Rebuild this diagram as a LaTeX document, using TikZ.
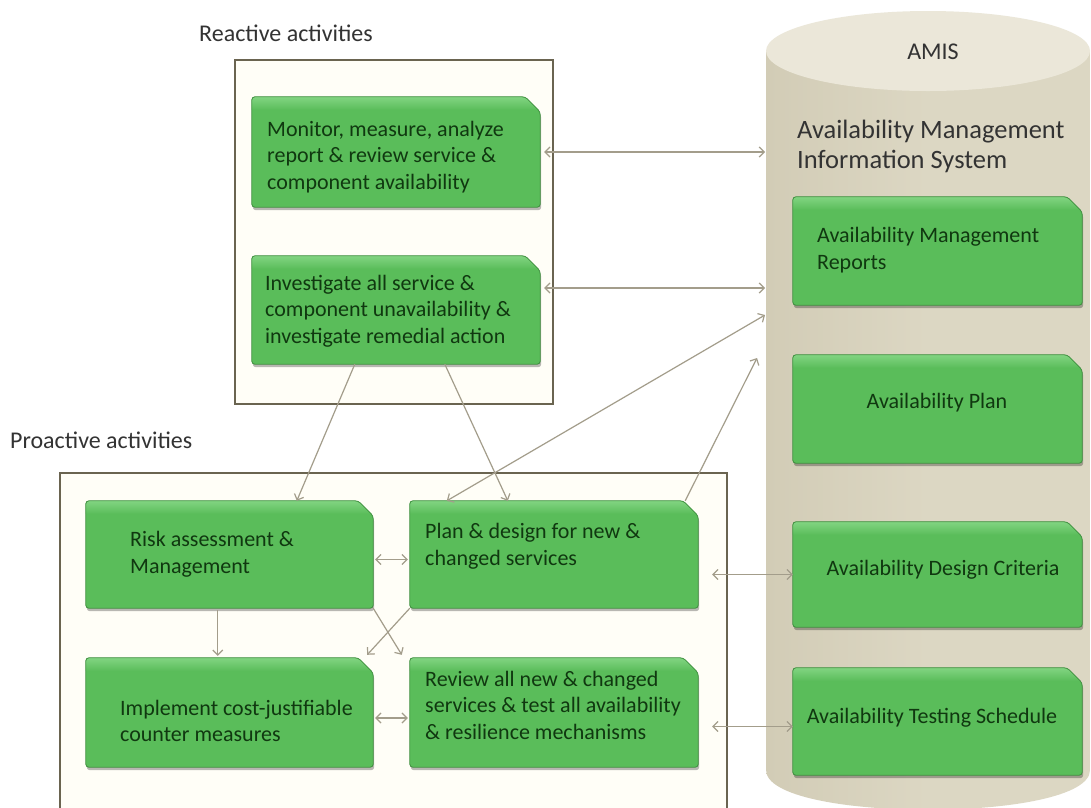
\documentclass[tikz,border=0pt]{standalone}
\usepackage{fontspec}
\setmainfont{Carlito}
\usetikzlibrary{arrows.meta,calc}
\definecolor{gfill}{HTML}{5ABD5A}
\definecolor{gtop}{HTML}{88D888}
\definecolor{gline}{HTML}{3F8F3F}
\definecolor{gtxt}{HTML}{103810}
\definecolor{frame}{HTML}{6A6450}
\definecolor{cream}{HTML}{FFFEF7}
\definecolor{arrc}{HTML}{A39D8B}
\definecolor{cylbody}{HTML}{DCD7C3}
\definecolor{cylleft}{HTML}{D2CCB6}
\definecolor{cyltop}{HTML}{EBE7D9}
\definecolor{lbl}{HTML}{333333}
\begin{document}
\begin{tikzpicture}[x=1pt,y=-1pt,
  gnode/.style={rectangle, inner sep=0pt},
  gshape/.style={fill=gfill, rounded corners=3pt},
  gborder/.style={draw=gline, line width=0.8pt, rounded corners=3pt},
  gshadow/.style={fill=black, opacity=0.28, rounded corners=3pt},
  gtext/.style={font=\fontsize{22}{26.5}\selectfont, text=gtxt, align=left, inner sep=0pt, anchor=west},
  ctext/.style={font=\fontsize{22}{26.5}\selectfont, text=gtxt, align=center, inner sep=0pt},
  ltext/.style={font=\fontsize{24}{30}\selectfont, text=lbl, inner sep=0pt},
  frm/.style={draw=frame, line width=2pt, fill=cream},
  arr/.style={draw=arrc, line width=1.2pt, -{Straight Barb[length=5pt,width=10pt]}},
  darr/.style={draw=arrc, line width=1.2pt, {Straight Barb[length=5pt,width=10pt]}-{Straight Barb[length=5pt,width=10pt]}}
]
\useasboundingbox (0,0) rectangle (1091,807);
\clip (0,0) rectangle (1091,807);
\fill[white] (0,0) rectangle (1091,807);

% AMIS cylinder
\shade[left color=cylleft, right color=cylbody, middle color=cylbody] (766,51) -- (766,770) .. controls (766,823) and (1090,823) .. (1090,770) -- (1090,51) -- cycle;
\fill[cyltop] (928,51) ellipse [x radius=162pt, y radius=40pt];
\node[ltext] (amis) at (933,52) {AMIS};
\node[ltext, anchor=west, align=left, font=\fontsize{26.5}{30}\selectfont] (amisT) at (797,146) {Availability Management\\Information System};

% frames
\path[frm] (235,60) rectangle (553,404);
\path[frm] (60,473) rectangle (727,830);
\node[ltext, anchor=west] (reactL) at (199,33) {Reactive activities};
\node[ltext, anchor=west] (proactL) at (10,440) {Proactive activities};

% coordinates on the AMIS cylinder
\coordinate (c1) at (765,152);
\coordinate (c2) at (765,288);
\coordinate (c3) at (765,315);
\coordinate (c4) at (757,358);

% boxes (named frames)
\node[gnode, minimum width=288pt, minimum height=110pt] (mon) at (396,152) {};
\node[gnode, minimum width=288pt, minimum height=108pt] (inv) at (396,310) {};
\node[gnode, minimum width=287pt, minimum height=107pt] (risk) at (229.5,554.5) {};
\node[gnode, minimum width=288pt, minimum height=107pt] (plan) at (554,554.5) {};
\node[gnode, minimum width=287pt, minimum height=109pt] (impl) at (229.5,712.5) {};
\node[gnode, minimum width=288pt, minimum height=109pt] (rev) at (554,712.5) {};
\node[gnode, minimum width=289pt, minimum height=108pt] (rep) at (937.5,251) {};
\node[gnode, minimum width=289pt, minimum height=108pt] (aplan) at (937.5,409) {};
\node[gnode, minimum width=289pt, minimum height=105pt] (crit) at (937.5,574.5) {};
\node[gnode, minimum width=289pt, minimum height=107pt] (test) at (937.5,721.5) {};

\foreach \n in {mon,inv,risk,plan,impl,rev,rep,aplan,crit,test}{
  \fill[gshadow] ($(\n.south west)+(1,3)$) -- ($(\n.north west)+(1,3)$) -- ($(\n.north east)+(-14,3)$) -- ($(\n.north east)+(1,18)$) -- ($(\n.south east)+(1,3)$) -- cycle;
  \path[gshape] (\n.south west) -- (\n.north west) -- ($(\n.north east)+(-15,0)$) -- ($(\n.north east)+(0,15)$) -- (\n.south east) -- cycle;
  \begin{scope}
    \clip[rounded corners=3pt] (\n.south west) -- (\n.north west) -- ($(\n.north east)+(-15,0)$) -- ($(\n.north east)+(0,15)$) -- (\n.south east) -- cycle;
    \shade[top color=gtop, bottom color=gfill] ($(\n.north west)+(-2,-2)$) rectangle ($(\n.north east)+(2,13)$);
  \end{scope}
  \path[gborder] (\n.south west) -- (\n.north west) -- ($(\n.north east)+(-15,0)$) -- ($(\n.north east)+(0,15)$) -- (\n.south east) -- cycle;
}

% texts
\node[gtext] (monT) at (267,157) {Monitor, measure, analyze\\report \& review service \&\\component availability};
\node[gtext] (invT) at (265,311) {Investigate all service \&\\component unavailability \&\\investigate remedial action};
\node[gtext] (riskT) at (130,554) {Risk assessment \&\\Management};
\node[gtext] (planT) at (425,546) {Plan \& design for new \&\\changed services};
\node[gtext] (implT) at (120,721) {Implement cost-justifiable\\counter measures};
\node[gtext] (revT) at (425,705) {Review all new \& changed\\services \& test all availability\\\& resilience mechanisms};
\node[gtext] (repT) at (817,250) {Availability Management\\Reports};
\node[ctext] (aplanT) at (937,403) {Availability Plan};
\node[ctext] (critT) at (943,570) {Availability Design Criteria};
\node[ctext] (testT) at (932,718) {Availability Testing Schedule};

% connectors
\draw[darr, shorten <=4pt] (mon.east |- c1) -- (c1);
\draw[darr, shorten <=4pt] (inv.east |- c2) -- (c2);
\draw[darr] ($(plan.north west)+(37,0)$) -- (c3);
\draw[arr] ($(plan.north east)+(-13,0)$) -- (c4);
\draw[arr] ($(inv.south west)+(103,0)$) -- ($(risk.north west)+(211,0)$);
\draw[arr] ($(inv.south west)+(193,0)$) -- ($(plan.north west)+(98,0)$);
\draw[darr, shorten <=2pt, shorten >=2pt] ($(risk.east)+(0,5)$) -- ($(plan.west)+(0,5)$);
\draw[arr, shorten <=2pt, shorten >=2pt] ($(risk.south west)+(132,0)$) -- ($(impl.north west)+(132,0)$);
\draw[arr] (risk.south east) -- ($(rev.north west)+(-8,-3)$);
\draw[arr] (plan.south west) -- ($(impl.north east)+(-6,-3)$);
\draw[darr, shorten <=2pt, shorten >=2pt] ($(impl.east)+(0,5.5)$) -- ($(rev.west)+(0,5.5)$);
\draw[darr, shorten <=14pt] (plan.east |- crit.west) -- (crit.west);
\draw[darr, shorten <=14pt] ($(rev.east |- test.west)+(0,5)$) -- ($(test.west)+(0,5)$);
\end{tikzpicture}
\end{document}
